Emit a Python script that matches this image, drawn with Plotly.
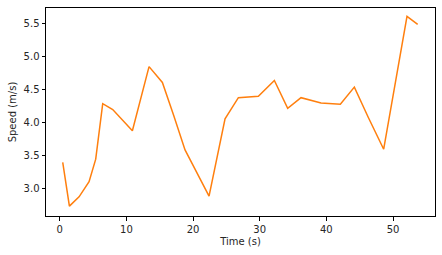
import plotly.graph_objects as go

time_s = [0.45, 1.45, 2.9, 4.4, 5.4, 6.45, 7.95, 10.9, 13.4, 15.4, 17.1, 18.8, 22.4,
          24.8, 26.8, 29.8, 32.2, 34.2, 36.2, 39.2, 42.1, 44.2, 46.3, 48.6, 52.1, 53.7]
speed = [3.39, 2.73, 2.87, 3.10, 3.44, 4.28, 4.19, 3.87, 4.84, 4.60, 4.10, 3.58, 2.88,
         4.05, 4.37, 4.39, 4.63, 4.21, 4.37, 4.29, 4.27, 4.53, 4.07, 3.59, 5.60, 5.48]
y_ticks = [3.0, 3.5, 4.0, 4.5, 5.0, 5.5]
x_ticks = [0, 10, 20, 30, 40, 50]

fig = go.Figure()
fig.add_trace(go.Scatter(x=time_s, y=speed, mode="lines",
                         line=dict(color="#ff7f0e", width=1.5)))

axis_common = dict(showline=True, linecolor="black", linewidth=1, mirror=True,
                   ticks="outside", ticklen=3.5, tickwidth=0.8, tickcolor="black",
                   showgrid=False, zeroline=False,
                   tickfont=dict(family="DejaVu Sans", size=10, color="#262626"))

fig.update_layout(
    width=442, height=255,
    margin=dict(l=46, r=7, t=8, b=39),
    paper_bgcolor="white", plot_bgcolor="white",
    showlegend=False,
    font=dict(family="DejaVu Sans", size=10, color="#262626"),
    xaxis=dict(range=[-2.06, 56.3], tickvals=x_ticks,
               title=dict(text="Time (s)", standoff=4,
                          font=dict(family="DejaVu Sans", size=10, color="#262626")),
               **axis_common),
    yaxis=dict(range=[2.58, 5.727], tickvals=y_ticks, tickformat=".1f",
               title=dict(text="Speed (m/s)", standoff=5,
                          font=dict(family="DejaVu Sans", size=10, color="#262626")),
               **axis_common),
)

fig.write_html("out.html")
